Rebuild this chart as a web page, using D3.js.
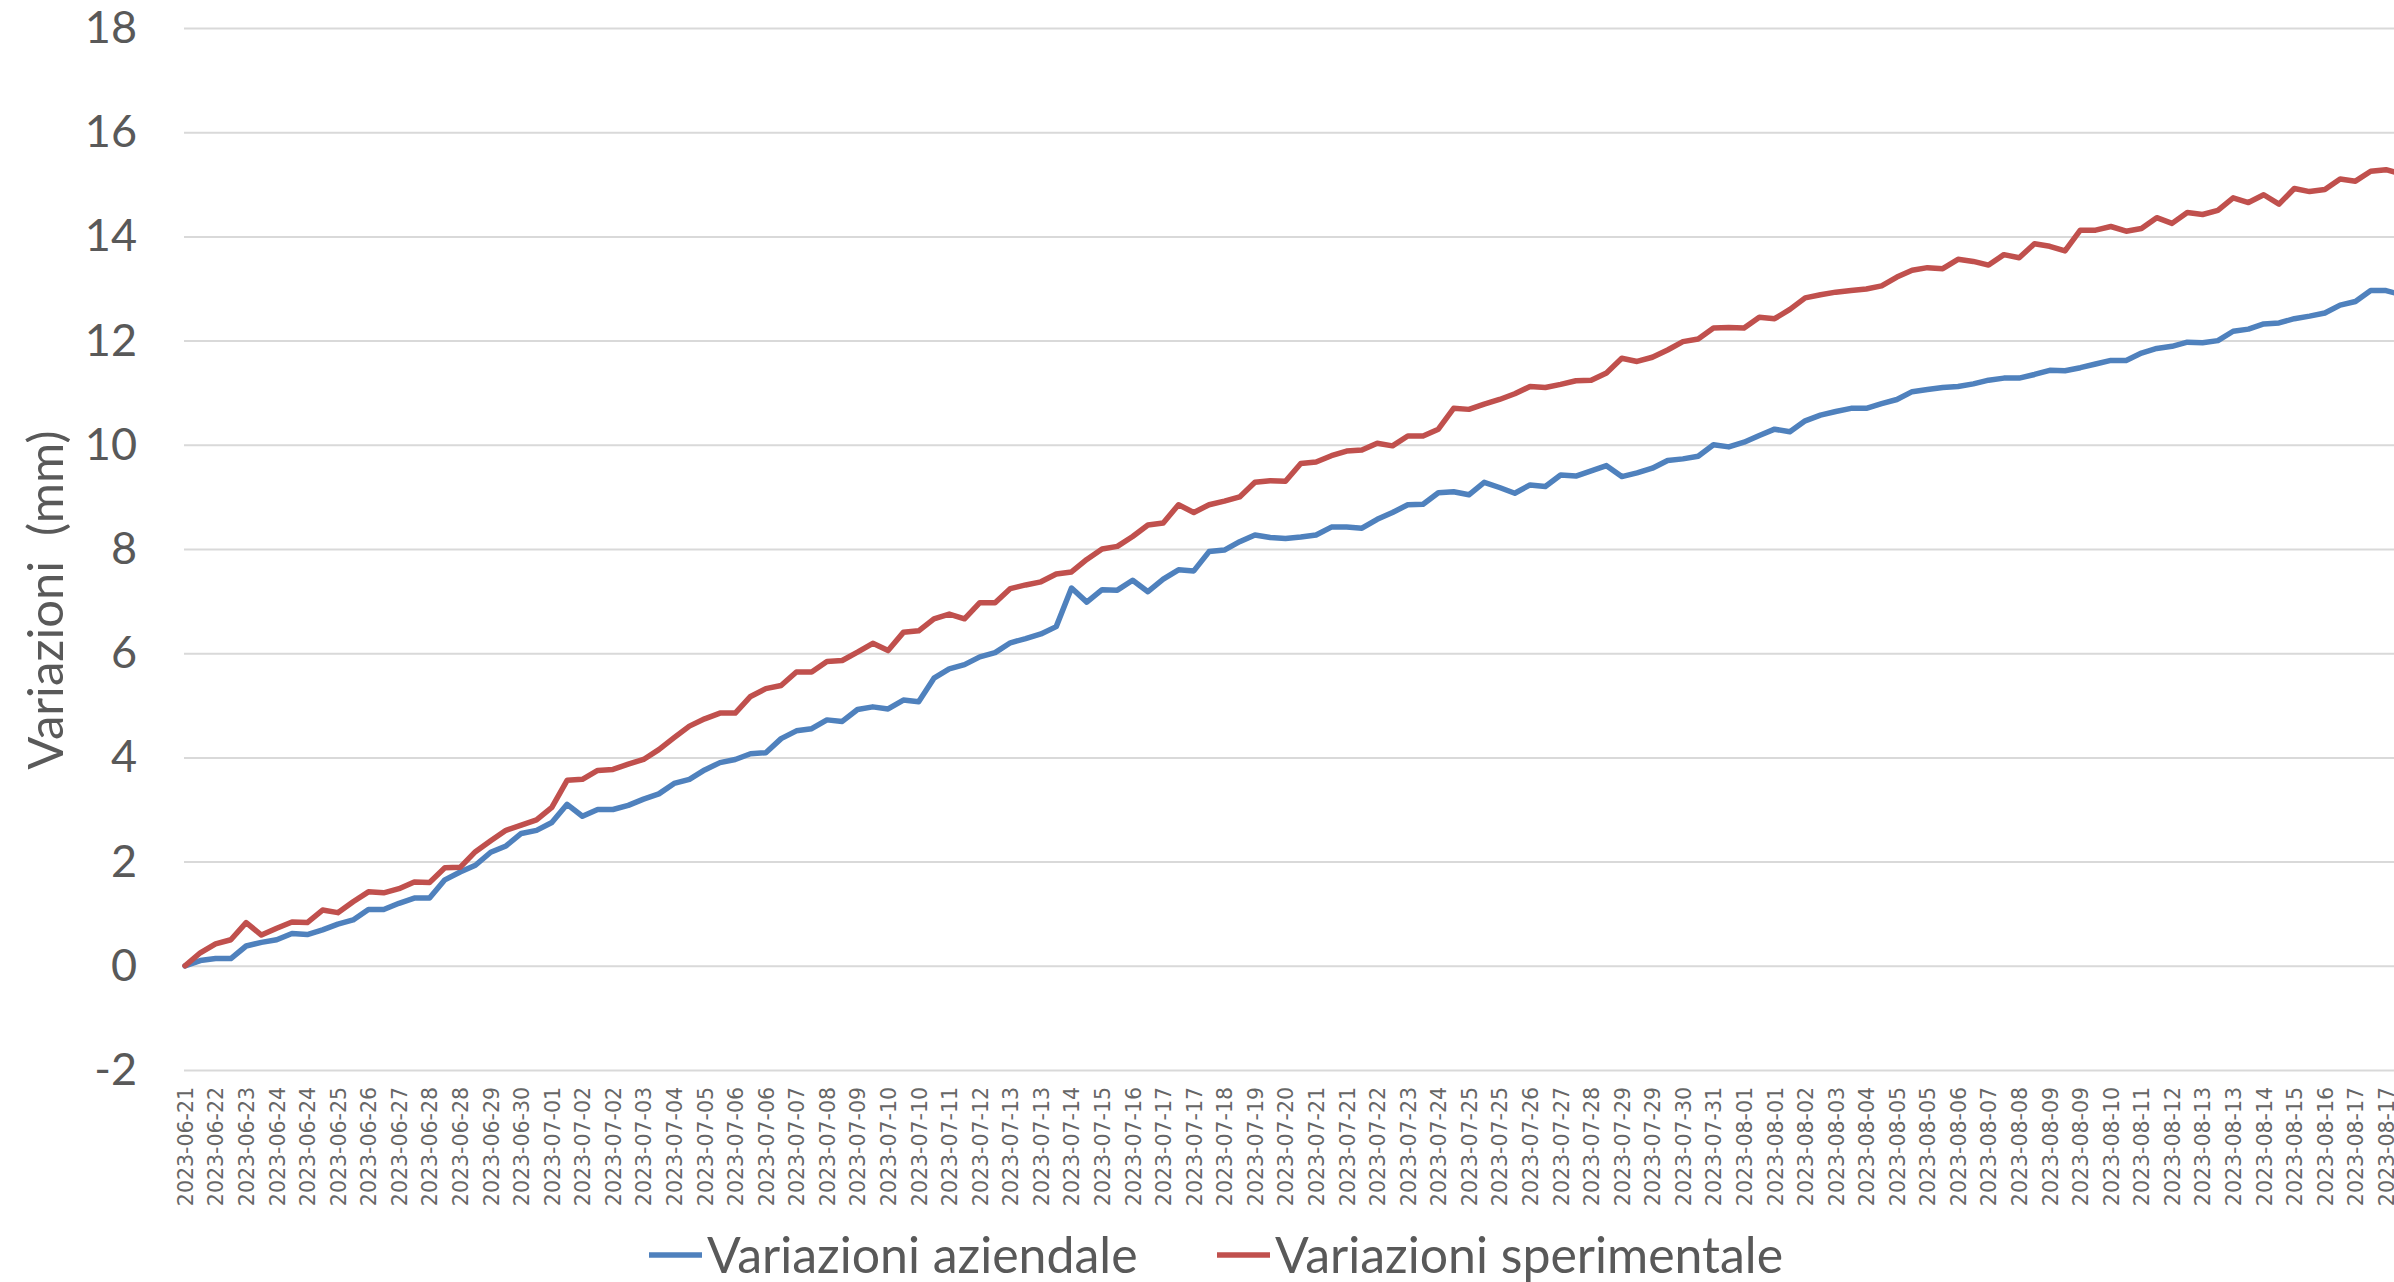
<!DOCTYPE html>
<html>
<head>
<meta charset="utf-8">
<script src="https://cdn.jsdelivr.net/npm/d3@7"></script>
<style>
  body { margin: 0; background: #fff; }
  svg { display: block; }
</style>
</head>
<body>
<div id="chart"></div>
<script>
// x tick labels, one every 2 data points
var dateLabels = [
  "2023-06-21","2023-06-22","2023-06-23","2023-06-24","2023-06-24","2023-06-25","2023-06-26","2023-06-27",
  "2023-06-28","2023-06-28","2023-06-29","2023-06-30","2023-07-01","2023-07-02","2023-07-02","2023-07-03",
  "2023-07-04","2023-07-05","2023-07-06","2023-07-06","2023-07-07","2023-07-08","2023-07-09","2023-07-10",
  "2023-07-10","2023-07-11","2023-07-12","2023-07-13","2023-07-13","2023-07-14","2023-07-15","2023-07-16",
  "2023-07-17","2023-07-17","2023-07-18","2023-07-19","2023-07-20","2023-07-21","2023-07-21","2023-07-22",
  "2023-07-23","2023-07-24","2023-07-25","2023-07-25","2023-07-26","2023-07-27","2023-07-28","2023-07-29",
  "2023-07-29","2023-07-30","2023-07-31","2023-08-01","2023-08-01","2023-08-02","2023-08-03","2023-08-04",
  "2023-08-05","2023-08-05","2023-08-06","2023-08-07","2023-08-08","2023-08-09","2023-08-09","2023-08-10",
  "2023-08-11","2023-08-12","2023-08-13","2023-08-13","2023-08-14","2023-08-15","2023-08-16","2023-08-17",
  "2023-08-17"
]

var yTicks = [-2, 0, 2, 4, 6, 8, 10, 12, 14, 16, 18]

var seriesNames = ["Variazioni aziendale", "Variazioni sperimentale"]

// values (mm)
var aziendale = [
  0.0, 0.1, 0.14, 0.14, 0.38, 0.45, 0.5, 0.62, 0.6, 0.69,
  0.8, 0.88, 1.08, 1.08, 1.2, 1.3, 1.3, 1.65, 1.8, 1.93,
  2.18, 2.3, 2.54, 2.6, 2.75, 3.1, 2.87, 3.0, 3.0, 3.08,
  3.2, 3.3, 3.5, 3.58, 3.76, 3.9, 3.96, 4.07, 4.09, 4.36,
  4.51, 4.55, 4.72, 4.69, 4.92, 4.97, 4.93, 5.1, 5.07, 5.52,
  5.7, 5.78, 5.93, 6.01, 6.2, 6.28, 6.37, 6.51, 7.25, 6.98,
  7.22, 7.21, 7.4, 7.18, 7.42, 7.6, 7.58, 7.95, 7.98, 8.14,
  8.27, 8.22, 8.2, 8.23, 8.27, 8.42, 8.42, 8.4, 8.57, 8.7,
  8.85, 8.86, 9.08, 9.1, 9.04, 9.28, 9.18, 9.07, 9.23, 9.2,
  9.42, 9.4, 9.5, 9.6, 9.39, 9.46, 9.55, 9.7, 9.73, 9.78,
  10.0, 9.96, 10.05, 10.18, 10.3, 10.25, 10.46, 10.57, 10.64, 10.7,
  10.7, 10.79, 10.87, 11.02, 11.06, 11.1, 11.12, 11.17, 11.24, 11.28,
  11.28, 11.35, 11.43, 11.42, 11.48, 11.55, 11.62, 11.62, 11.76, 11.85,
  11.89, 11.97, 11.96, 12.0, 12.18, 12.22, 12.32, 12.34, 12.42, 12.47,
  12.53, 12.68, 12.75, 12.96, 12.96, 12.88
]

var sperimentale = [
  0.0, 0.25, 0.42, 0.5, 0.83, 0.59, 0.72, 0.84, 0.83, 1.07,
  1.02, 1.23, 1.42, 1.4, 1.48, 1.61, 1.6, 1.88, 1.89, 2.19,
  2.4, 2.6, 2.7, 2.8, 3.04, 3.56, 3.58, 3.75, 3.77, 3.87,
  3.96, 4.15, 4.38, 4.6, 4.74, 4.85, 4.85, 5.17, 5.32, 5.38,
  5.64, 5.64, 5.84, 5.86, 6.02, 6.19, 6.05, 6.4, 6.43, 6.66,
  6.75, 6.66, 6.97, 6.97, 7.24, 7.31, 7.37, 7.52, 7.56, 7.8,
  8.0, 8.05, 8.24, 8.46, 8.5, 8.85, 8.7, 8.85, 8.92, 9.0,
  9.28, 9.31, 9.3, 9.64, 9.67, 9.79, 9.88, 9.9, 10.03, 9.98,
  10.17, 10.17, 10.3, 10.7, 10.68, 10.78, 10.87, 10.98, 11.12, 11.1,
  11.16, 11.23, 11.24, 11.38, 11.66, 11.6, 11.68, 11.82, 11.98, 12.03,
  12.24, 12.25, 12.24, 12.45, 12.42, 12.6, 12.82, 12.88, 12.93, 12.96,
  12.99, 13.05, 13.22, 13.35, 13.4, 13.38, 13.56, 13.52, 13.45, 13.65,
  13.59, 13.86, 13.81, 13.72, 14.12, 14.12, 14.19, 14.1, 14.15, 14.36,
  14.25, 14.46, 14.42, 14.5, 14.74, 14.65, 14.8, 14.62, 14.92, 14.86,
  14.9, 15.1, 15.06, 15.25, 15.28, 15.2
]

var colors = ["#4F81BD", "#C0504D"]

var svgSize = { width: 2394, height: 1282 }
var plot = { left: 184, right: 2394, top: 28, bottom: 1070 }

var svg = d3.select("#chart").append("svg")
            .attr("width", svgSize.width)
            .attr("height", svgSize.height)

var xScale = d3.scaleLinear()
               .domain([0, (dateLabels.length - 1) * 2])
               .range([185, 2386])
var yScale = d3.scaleLinear()
               .domain([-2, 18])
               .range([plot.bottom, plot.top])

// gridlines + y labels
var leftAxis = d3.axisLeft(yScale)
                 .tickValues(yTicks)
                 .tickFormat(d => String(d))
                 .tickSize(-(plot.right - plot.left))
                 .tickPadding(47)
var yAxis = svg.append("g")
               .attr("transform", `translate(${plot.left}, 0)`)
               .call(leftAxis)
yAxis.select(".domain").remove()
yAxis.selectAll("line").attr("stroke", "#D9D9D9").attr("stroke-width", 2)
yAxis.selectAll("text")
     .attr("fill", "#595959")
     .style("font-family", "Lato, 'Open Sans', sans-serif")
     .style("font-size", "45px")

// x labels
var bottomAxis = d3.axisBottom(xScale)
                   .tickValues(d3.range(0, dateLabels.length * 2, 2))
                   .tickFormat(i => dateLabels[i / 2])
                   .tickSize(0)
var xAxis = svg.append("g")
               .attr("transform", `translate(0, ${plot.bottom})`)
               .call(bottomAxis)
xAxis.select(".domain").remove()
xAxis.selectAll("text")
     .attr("transform", "rotate(-90)")
     .attr("x", -17)
     .attr("y", 0)
     .attr("dy", "0.36em")
     .attr("text-anchor", "end")
     .attr("fill", "#666666")
     .style("font-family", "'DejaVu Sans', sans-serif")
     .style("font-size", "20.5px")

// lines
var line = d3.line()
             .x((d, i) => xScale(i))
             .y(d => yScale(d))

var lines = svg.append("g").attr("id", "lines")
;[aziendale, sperimentale].forEach((vals, k) => {
    lines.append("path")
         .datum(vals)
         .attr("d", line)
         .attr("fill", "none")
         .attr("stroke", colors[k])
         .attr("stroke-width", 5.5)
         .attr("stroke-linejoin", "round")
         .attr("stroke-linecap", "round")
})

// y title
svg.append("text")
   .attr("transform", "translate(46, 600) rotate(-90)")
   .attr("text-anchor", "middle")
   .attr("dy", "0.35em")
   .attr("fill", "#595959")
   .style("font-family", "Lato, 'Open Sans', sans-serif")
   .style("font-size", "49px")
   .style("white-space", "pre")
   .text("Variazioni  (mm)")

// legend
var legendX = [649, 1217]
var legend = svg.append("g")
seriesNames.forEach((name, k) => {
    legend.append("line")
          .attr("x1", legendX[k]).attr("x2", legendX[k] + 53)
          .attr("y1", 1255).attr("y2", 1255)
          .attr("stroke", colors[k])
          .attr("stroke-width", 5.5)
    legend.append("text")
          .attr("x", legendX[k] + 58)
          .attr("y", 1255)
          .attr("dy", "0.35em")
          .attr("fill", "#595959")
          .style("font-family", "Lato, 'Open Sans', sans-serif")
          .style("font-size", "50px")
          .text(name)
})
</script>
</body>
</html>
